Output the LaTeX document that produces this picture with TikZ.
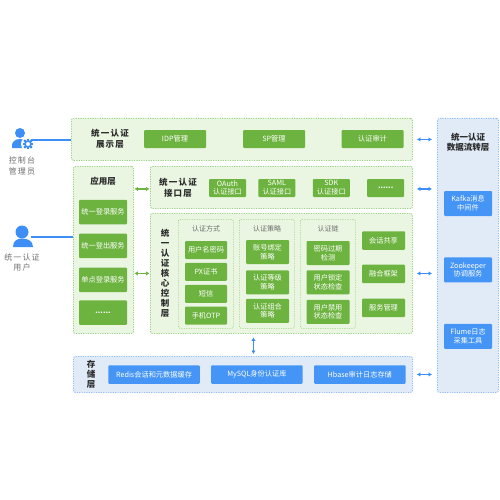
\documentclass[tikz,border=0pt]{standalone}
\usepackage{fontspec}
\setmainfont{Noto Sans CJK SC}
\newfontfamily\spacedfont[LetterSpace=14]{Noto Sans CJK SC}
\usetikzlibrary{arrows.meta,positioning}
\definecolor{panelgreen}{HTML}{EAF6E2}
\definecolor{edgegreen}{HTML}{9AD384}
\definecolor{boxgreen}{HTML}{6DB33F}
\definecolor{panelblue}{HTML}{E1EBF8}
\definecolor{edgeblue}{HTML}{90BDF5}
\definecolor{boxblue}{HTML}{4495F5}
\definecolor{peopleblue}{HTML}{3D8FF5}
\definecolor{labelgray}{HTML}{6E6E6E}
\definecolor{titleblack}{HTML}{2B2B2B}

\begin{document}
\begin{tikzpicture}[
  x=1pt, y=-1pt,
  node distance=4pt,
  panel/.style={draw=edgegreen, fill=panelgreen, dash pattern=on 1.2pt off 1.2pt, line width=0.9pt, rounded corners=2pt, anchor=north west, inner sep=0pt},
  subpanel/.style={panel, line width=0.7pt, minimum width=55pt, minimum height=109pt},
  bluepanel/.style={panel, draw=edgeblue, fill=panelblue},
  gbox/.style={fill=boxgreen, rounded corners=1pt, inner sep=0pt, align=center, text=white, font=\fontsize{7.2}{8.8}\selectfont},
  bbox/.style={gbox, fill=boxblue},
  appbox/.style={gbox, minimum width=48pt, minimum height=24.5pt},
  apibox/.style={gbox, minimum width=37pt, minimum height=18pt},
  topbox/.style={gbox, minimum width=62pt, minimum height=18pt},
  wayboxs/.style={gbox, minimum width=42pt, minimum height=18pt},
  rulebox/.style={gbox, minimum width=43pt, minimum height=24pt},
  sidebox/.style={gbox, minimum width=43pt, minimum height=18.5pt},
  storebox/.style={bbox, minimum width=91.5pt, minimum height=18.5pt},
  flowbox/.style={bbox, minimum width=48pt, minimum height=25pt},
  title/.style={inner sep=0pt, align=center, text=titleblack, font=\fontsize{8.5}{10}\bfseries\selectfont},
  wide/.style={title, font=\spacedfont\fontsize{8.5}{10.5}\bfseries\selectfont},
  subtitle/.style={inner sep=0pt, text=labelgray, font=\fontsize{7}{8.5}\selectfont},
  who/.style={inner sep=0pt, align=center, text=labelgray, font=\spacedfont\fontsize{8}{10.5}\selectfont},
  greenarrow/.style={{Latex[length=3.5pt,width=4.5pt]}-{Latex[length=3.5pt,width=4.5pt]}, draw=boxgreen, line width=1.1pt},
  bluearrow/.style={{Latex[length=3.5pt,width=4.5pt]}-{Latex[length=3.5pt,width=4.5pt]}, draw=peopleblue, line width=1.1pt},
  peopleline/.style={draw=peopleblue, line width=1.5pt}
]
\useasboundingbox (0,0) rectangle (500,500);

% layers
\node[panel, minimum width=341pt, minimum height=42pt] (show) at (71,118) {};
\node[panel, minimum width=60pt, minimum height=167pt] (app) at (73,166) {};
\node[panel, minimum width=262pt, minimum height=42pt] (iface) at (150,166) {};
\node[panel, minimum width=262pt, minimum height=120pt] (core) at (150,213) {};
\node[subpanel] (way) at (178,219) {};
\node[subpanel] (rule) at (239,219) {};
\node[subpanel] (chain) at (300,219) {};
\node[bluepanel, minimum width=339pt, minimum height=36pt] (store) at (73,356) {};
\node[bluepanel, minimum width=61pt, minimum height=274pt] (flow) at (437,118) {};

% show layer
\node[wide] (showtitle) at (110,139) {统一认证\\展示层};
\node[topbox] (idp) at (175,139) {IDP管理};
\node[topbox] (sp) at (274,139) {SP管理};
\node[topbox] (audit) at (372.5,139) {认证审计};

% app layer
\node[title] (apptitle) at (103,181) {应用层};
\node[appbox] (login) at (103,212) {统一登录服务};
\node[appbox, below=9pt of login] (logout) {统一登出服务};
\node[appbox, below=9pt of logout] (sso) {单点登录服务};
\node[appbox, below=8pt of sso] (appmore) {\textbf{......}};

% interface layer
\node[wide] (ifacetitle) at (178,188) {统一认证\\接口层};
\node[apibox] (oauth) at (227.5,188) {OAuth\\认证接口};
\node[apibox, right=12pt of oauth] (saml) {SAML\\认证接口};
\node[apibox, right=17pt of saml] (sdk) {SDK\\认证接口};
\node[apibox, right=17pt of sdk] (apimore) {\textbf{......}};

% core layer
\node[title] (coretitle) at (165,273) {统\\一\\认\\证\\核\\心\\控\\制\\层};
\node[subtitle] (waytitle) at (206,229) {认证方式};
\node[wayboxs] (pwd) at (206,250) {用户名密码};
\node[wayboxs, below=3.5pt of pwd] (px) {PX证书};
\node[wayboxs, below=3.5pt of px] (sms) {短信};
\node[wayboxs, below=3.5pt of sms] (otp) {手机OTP};
\node[subtitle] (ruletitle) at (267,229) {认证策略};
\node[rulebox] (bind) at (267.5,252) {账号绑定\\策略};
\node[rulebox, below=6pt of bind] (grade) {认证等级\\策略};
\node[rulebox, below=4pt of grade] (combo) {认证组合\\策略};
\node[subtitle] (chaintitle) at (328,229) {认证链};
\node[rulebox] (expire) at (328,253) {密码过期\\检测};
\node[rulebox, below=5pt of expire] (lock) {用户锁定\\状态检查};
\node[rulebox, below=5pt of lock] (ban) {用户禁用\\状态检查};
\node[sidebox] (share) at (383.5,240.5) {会话共享};
\node[sidebox, below=14.5pt of share] (frame) {融合框架};
\node[sidebox, below=15pt of frame] (manage) {服务管理};

% storage layer
\node[title] (storetitle) at (91,374) {存\\储\\层};
\node[storebox] (redis) at (154,374.5) {Redis会话和元数据缓存};
\node[storebox, right=11pt of redis] (mysql) {MySQL身份认证库};
\node[storebox, right=11pt of mysql] (hbase) {Hbase审计日志存储};

% data flow layer
\node[title] (flowtitle) at (468,142) {统一认证\\数据流转层};
\node[flowbox] (kafka) at (468,203.5) {Kafka消息\\中间件};
\node[flowbox, below=41pt of kafka] (zoo) {Zookeeper\\协调服务};
\node[flowbox, below=41pt of zoo] (flume) {Flume日志\\采集工具};

% people
\fill[peopleblue] (20,133) circle (5);
\fill[peopleblue] (12,148) .. controls (11,142) and (15,139) .. (20,139) .. controls (25,139) and (29,142) .. (28,148) -- cycle;
\fill[white] (28,144) circle (7);
\foreach \ang in {0,45,...,315} {
  \fill[peopleblue, rotate around={\ang:(28,144)}] (26.9,138.6) rectangle (29.1,141);
}
\draw[peopleblue, line width=1.6pt] (28,144) circle (3);
\coordinate (admin) at (31,140);
\node[who] (admintext) at (22,166) {控制台\\管理员};
\fill[peopleblue] (22,232) circle (6.5);
\fill[peopleblue] (13,247) .. controls (13,241) and (17,238.5) .. (22,238.5) .. controls (28,238.5) and (33,241) .. (33,247) -- cycle;
\coordinate (user) at (31,237);
\node[who] (usertext) at (22,262.5) {统一认证\\用户};

% connectors
\draw[peopleline] (admin) -- (admin -| show.west);
\draw[peopleline] (user) -- (user -| app.west);
\draw[greenarrow, shorten >=0.5pt, shorten <=0.5pt] ([yshift=-1.5pt]app.east |- iface.west) -- ([yshift=-1.5pt]iface.west);
\draw[greenarrow, shorten >=0.5pt, shorten <=0.5pt] (app.east |- core.west) -- (core.west);
\draw[bluearrow, shorten >=5pt, shorten <=4pt] (show.east) -- (show.east -| flow.west);
\draw[bluearrow, shorten >=5pt, shorten <=4pt] ([yshift=-1.5pt]iface.east) -- ([yshift=-1.5pt]iface.east -| flow.west);
\draw[bluearrow, shorten >=5pt, shorten <=4pt] (core.east) -- (core.east -| flow.west);
\draw[bluearrow, shorten >=5pt, shorten <=4pt] (store.east) -- (store.east -| flow.west);
\draw[bluearrow, shorten >=2pt, shorten <=3.5pt] ([xshift=-28pt]core.south) -- ([xshift=-28pt]core.south |- store.north);
\end{tikzpicture}
\end{document}
